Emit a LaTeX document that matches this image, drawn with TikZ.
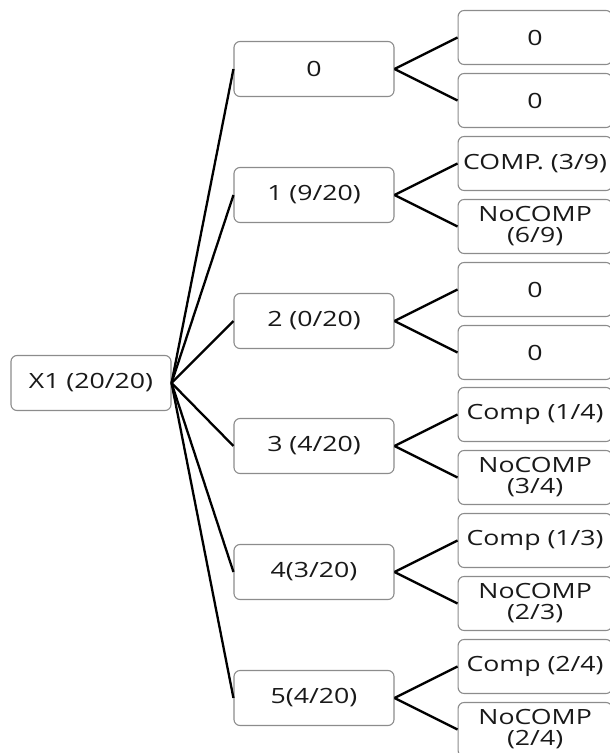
\documentclass[tikz,border=0pt]{standalone}
\usepackage{fontspec}
\setmainfont{Open Sans}[FakeStretch=1.27]
\usetikzlibrary{positioning}
\tikzset{
  tree box/.style={
    rectangle, rounded corners=6pt, draw=black!45, line width=1.1pt,
    fill=white, minimum width=160pt, minimum height=55pt,
    text=black!90, font=\fontsize{21}{21}\selectfont,
    align=center, inner sep=2pt
  },
  tree leaf/.style={
    tree box, minimum width=154pt, minimum height=54pt
  },
  tree edge/.style={
    line width=2.3pt, draw=black
  }
}

\begin{document}
\begin{tikzpicture}[x=1pt, y=1pt]
  \useasboundingbox (0,0) rectangle (610,-753);
  \clip (0,0) rectangle (610,-753);

  \node (root) [tree box] at (91,-383) {X1 (20/20)};

  \node (m0) [tree box] at (314,-69) {0};
  \node (m1) [tree box] at (314,-195) {1 (9/20)};
  \node (m2) [tree box] at (314,-321) {2 (0/20)};
  \node (m3) [tree box] at (314,-446) {3 (4/20)};
  \node (m4) [tree box] at (314,-572) {4(3/20)};
  \node (m5) [tree box] at (314,-698) {5(4/20)};

  \node (l0a) [tree leaf, right=63pt of m0, yshift=31.5pt] {0};
  \node (l0b) [tree leaf, right=63pt of m0, yshift=-31.5pt] {0};
  \node (l1a) [tree leaf, right=63pt of m1, yshift=31.5pt] {COMP. (3/9)};
  \node (l1b) [tree leaf, right=63pt of m1, yshift=-31.5pt] {NoCOMP\\(6/9)};
  \node (l2a) [tree leaf, right=63pt of m2, yshift=31.5pt] {0};
  \node (l2b) [tree leaf, right=63pt of m2, yshift=-31.5pt] {0};
  \node (l3a) [tree leaf, right=63pt of m3, yshift=31.5pt] {Comp (1/4)};
  \node (l3b) [tree leaf, right=63pt of m3, yshift=-31.5pt] {NoCOMP\\(3/4)};
  \node (l4a) [tree leaf, right=63pt of m4, yshift=31.5pt] {Comp (1/3)};
  \node (l4b) [tree leaf, right=63pt of m4, yshift=-31.5pt] {NoCOMP\\(2/3)};
  \node (l5a) [tree leaf, right=63pt of m5, yshift=31.5pt] {Comp (2/4)};
  \node (l5b) [tree leaf, right=63pt of m5, yshift=-31.5pt] {NoCOMP\\(2/4)};

  \draw [tree edge] (root.east) -- (m0.west);
  \draw [tree edge] (root.east) -- (m1.west);
  \draw [tree edge] (root.east) -- (m2.west);
  \draw [tree edge] (root.east) -- (m3.west);
  \draw [tree edge] (root.east) -- (m4.west);
  \draw [tree edge] (root.east) -- (m5.west);

  \draw [tree edge] (m0.east) -- (l0a.west);
  \draw [tree edge] (m0.east) -- (l0b.west);
  \draw [tree edge] (m1.east) -- (l1a.west);
  \draw [tree edge] (m1.east) -- (l1b.west);
  \draw [tree edge] (m2.east) -- (l2a.west);
  \draw [tree edge] (m2.east) -- (l2b.west);
  \draw [tree edge] (m3.east) -- (l3a.west);
  \draw [tree edge] (m3.east) -- (l3b.west);
  \draw [tree edge] (m4.east) -- (l4a.west);
  \draw [tree edge] (m4.east) -- (l4b.west);
  \draw [tree edge] (m5.east) -- (l5a.west);
  \draw [tree edge] (m5.east) -- (l5b.west);
\end{tikzpicture}
\end{document}
